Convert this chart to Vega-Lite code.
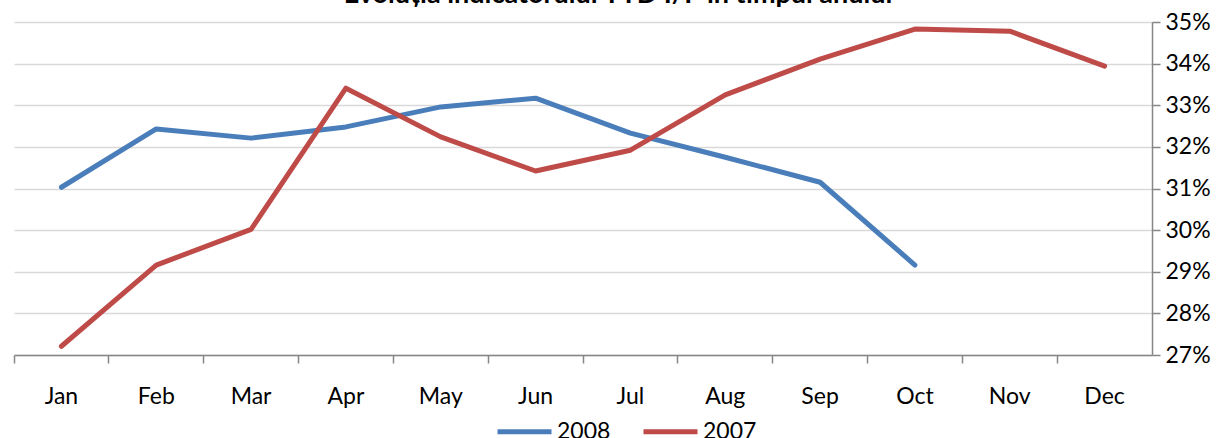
{
  "$schema": "https://vega.github.io/schema/vega-lite/v6.json",
  "width": 1138,
  "height": 333,
  "autosize": "none",
  "padding": {"left": 14, "top": 22, "right": 74, "bottom": 83},
  "background": "white",
  "title": {
    "text": "Evoluția indicatorului YTD I/P în timpul anului",
    "font": "Lato",
    "fontSize": 27,
    "fontWeight": "bold",
    "color": "#000000",
    "anchor": "middle",
    "baseline": "alphabetic",
    "offset": 0,
    "dy": 19,
    "dx": 35
  },
  "config": {
    "view": {"stroke": null},
    "font": "Lato"
  },
  "data": {
    "values": [
      {"month": "Jan", "year": "2008", "v": 0.3103},
      {"month": "Feb", "year": "2008", "v": 0.3243},
      {"month": "Mar", "year": "2008", "v": 0.3221},
      {"month": "Apr", "year": "2008", "v": 0.3248},
      {"month": "May", "year": "2008", "v": 0.3296},
      {"month": "Jun", "year": "2008", "v": 0.3317},
      {"month": "Jul", "year": "2008", "v": 0.3233},
      {"month": "Aug", "year": "2008", "v": 0.3175},
      {"month": "Sep", "year": "2008", "v": 0.3115},
      {"month": "Oct", "year": "2008", "v": 0.2916},
      {"month": "Jan", "year": "2007", "v": 0.2721},
      {"month": "Feb", "year": "2007", "v": 0.2916},
      {"month": "Mar", "year": "2007", "v": 0.3002},
      {"month": "Apr", "year": "2007", "v": 0.3341},
      {"month": "May", "year": "2007", "v": 0.3224},
      {"month": "Jun", "year": "2007", "v": 0.3142},
      {"month": "Jul", "year": "2007", "v": 0.3192},
      {"month": "Aug", "year": "2007", "v": 0.3325},
      {"month": "Sep", "year": "2007", "v": 0.3411},
      {"month": "Oct", "year": "2007", "v": 0.3483},
      {"month": "Nov", "year": "2007", "v": 0.3478},
      {"month": "Dec", "year": "2007", "v": 0.3394}
    ]
  },
  "mark": {"type": "line", "strokeWidth": 5, "strokeCap": "round", "strokeJoin": "round"},
  "encoding": {
    "x": {
      "field": "month",
      "type": "ordinal",
      "sort": ["Jan","Feb","Mar","Apr","May","Jun","Jul","Aug","Sep","Oct","Nov","Dec"],
      "bandPosition": 0.5,
      "scale": {"type": "band", "paddingInner": 0, "paddingOuter": 0, "domain": ["Jan","Feb","Mar","Apr","May","Jun","Jul","Aug","Sep","Oct","Nov","Dec"]},
      "axis": {
        "title": null,
        "grid": false,
        "labelAngle": 0,
        "bandPosition": 0,
        "labelFont": "Lato",
        "labelFontSize": 23,
        "labelColor": "#000000",
        "labelPadding": 22,
        "domainColor": "#868686",
        "domainWidth": 1.5,
        "tickColor": "#868686",
        "tickWidth": 1.5,
        "tickSize": 8
      }
    },
    "y": {
      "field": "v",
      "type": "quantitative",
      "scale": {"domain": [0.27, 0.35], "nice": false, "zero": false},
      "axis": {
        "orient": "right",
        "title": null,
        "format": ".0%",
        "values": [0.27,0.28,0.29,0.30,0.31,0.32,0.33,0.34,0.35],
        "labelFont": "Lato",
        "labelFontSize": 23,
        "labelColor": "#000000",
        "labelPadding": 5,
        "domainColor": "#868686",
        "domainWidth": 1.5,
        "tickColor": "#868686",
        "tickWidth": 1.5,
        "tickSize": 8,
        "gridColor": "#d9d9d9",
        "gridWidth": 1.5
      }
    },
    "color": {
      "field": "year",
      "type": "nominal",
      "scale": {"domain": ["2008", "2007"], "range": ["#4a7ebb", "#be4b48"]},
      "legend": {
        "title": null,
        "orient": "none",
        "direction": "horizontal",
        "legendX": 481,
        "legendY": 380,
        "symbolType": "stroke",
        "symbolSize": 2916,
        "symbolStrokeWidth": 5,
        "labelFont": "Lato",
        "labelFontSize": 23,
        "labelColor": "#000000",
        "labelOffset": 3,
        "columnPadding": 22
      }
    }
  }
}
